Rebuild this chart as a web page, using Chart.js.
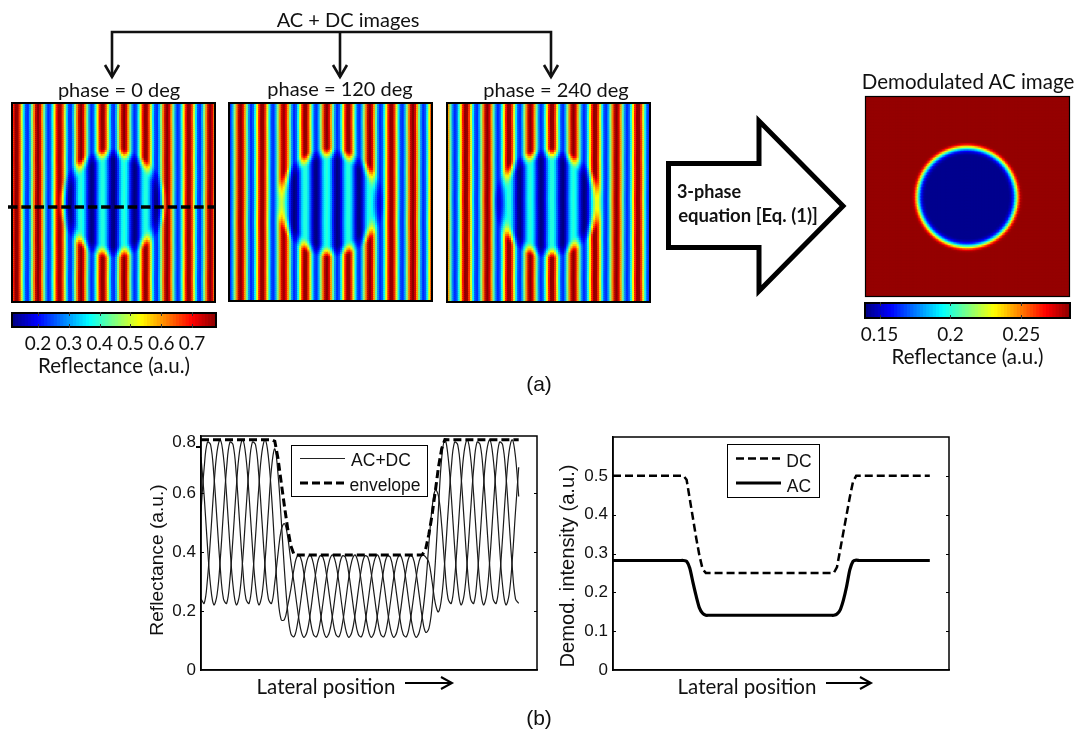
<!DOCTYPE html>
<html lang="en">
<head>
<meta charset="UTF-8">
<title>Three-phase demodulation</title>
<script src="https://cdn.jsdelivr.net/npm/chart.js"></script>
<style>
    html, body { margin: 0; padding: 0; background: #fff; }
    #page { position: relative; width: 1075px; height: 732px; overflow: hidden; }
    canvas { position: absolute; }
    canvas.image { filter: blur(0.6px); }
    svg { position: absolute; left: 0; top: 0; }
    .lbl { position: absolute; white-space: nowrap; color: #111; transform: translate(-50%, -50%); }
    .legend { position: absolute; background: #fff; border: 1.5px solid #000; box-sizing: border-box; }
</style>
</head>
<body>
<div id="page"></div>

<script>
    // line scan along the dashed row, one sample per ~2 image pixels
    const reflectancePhase0 = [
        .537,.687,.772,.763,.662,.505,.347,.241,.226,.306,.453,.617,.740,.780,.722,.588,.422,.284,.221,.255,
        .374,.537,.687,.749,.664,.510,.338,.201,.123,.113,.153,.227,.309,.370,.390,.361,.294,.211,.142,.111,
        .128,.187,.269,.344,.386,.382,.331,.253,.174,.121,.113,.153,.227,.309,.370,.390,.361,.294,.211,.142,
        .111,.128,.187,.269,.344,.386,.382,.331,.253,.174,.128,.140,.217,.362,.549,.718,.780,.722,.588,.422,
        .284,.221,.255,.374,.537,.687,.772,.763,.662,.505,.347,.241,.226,.306,.453,.617,.740,.780,.722,.588
    ];
    const reflectancePhase120 = [
        .241,.226,.306,.453,.617,.740,.780,.722,.588,.422,.284,.221,.255,.374,.537,.687,.772,.763,.662,.505,
        .347,.241,.226,.297,.394,.475,.496,.452,.368,.294,.211,.142,.111,.128,.187,.269,.344,.386,.382,.331,
        .253,.174,.121,.113,.153,.227,.309,.370,.390,.361,.294,.211,.142,.111,.128,.187,.269,.344,.386,.382,
        .331,.253,.174,.121,.113,.153,.227,.309,.370,.390,.383,.365,.300,.227,.197,.247,.374,.537,.687,.772,
        .763,.662,.505,.347,.241,.226,.306,.453,.617,.740,.780,.722,.588,.422,.284,.221,.255,.374,.537,.687
    ];
    const reflectancePhase240 = [
        .722,.588,.422,.284,.221,.255,.374,.537,.687,.772,.763,.662,.505,.347,.241,.226,.306,.453,.617,.740,
        .780,.722,.588,.409,.247,.170,.171,.217,.274,.344,.386,.382,.331,.253,.174,.121,.113,.153,.227,.309,
        .370,.390,.361,.294,.211,.142,.111,.128,.187,.269,.344,.386,.382,.331,.253,.174,.121,.113,.153,.227,
        .309,.370,.390,.361,.294,.211,.142,.111,.128,.187,.285,.426,.548,.610,.589,.490,.347,.241,.226,.306,
        .453,.617,.740,.780,.722,.588,.422,.284,.221,.255,.374,.537,.687,.772,.763,.662,.505,.347,.241,.226
    ];
    const envelope = [
        .78,.78,.78,.78,.78,.78,.78,.78,.78,.78,.78,.78,.78,.78,.78,.78,.78,.78,.78,.78,
        .78,.78,.78,.775,.717,.635,.555,.48,.421,.391,.39,.39,.39,.39,.39,.39,.39,.39,.39,.39,
        .39,.39,.39,.39,.39,.39,.39,.39,.39,.39,.39,.39,.39,.39,.39,.39,.39,.39,.39,.39,
        .39,.39,.39,.39,.39,.39,.39,.39,.39,.391,.409,.46,.525,.605,.688,.75,.781,.78,.78,.78,
        .78,.78,.78,.78,.78,.78,.78,.78,.78,.78,.78,.78,.78,.78,.78,.78,.78,.78,.78,.78
    ];
    const dcSeries = [
        .5,.5,.5,.5,.5,.5,.5,.5,.5,.5,.5,.5,.5,.5,.5,.5,.5,.5,.5,.5,
        .5,.5,.5,.49,.44,.39,.34,.295,.26,.25,.25,.25,.25,.25,.25,.25,.25,.25,.25,.25,
        .25,.25,.25,.25,.25,.25,.25,.25,.25,.25,.25,.25,.25,.25,.25,.25,.25,.25,.25,.25,
        .25,.25,.25,.25,.25,.25,.25,.25,.25,.25,.265,.31,.355,.40,.445,.485,.5,.5,.5,.5,
        .5,.5,.5,.5,.5,.5,.5,.5,.5,.5,.5,.5,.5,.5,.5,.5,.5,.5,.5,.5
    ];
    const acSeries = [
        .282,.282,.282,.282,.282,.282,.282,.282,.282,.282,.282,.282,.282,.282,.282,.282,.282,.282,.282,.282,
        .282,.282,.282,.280,.262,.225,.190,.160,.146,.141,.141,.141,.141,.141,.141,.141,.141,.141,.141,.141,
        .141,.141,.141,.141,.141,.141,.141,.141,.141,.141,.141,.141,.141,.141,.141,.141,.141,.141,.141,.141,
        .141,.141,.141,.141,.141,.141,.141,.141,.141,.141,.144,.155,.180,.215,.258,.280,.283,.282,.282,.282,
        .282,.282,.282,.282,.282,.282,.282,.282,.282,.282,.282,.282,.282,.282,.282,.282,.282,.282,.282,.282
    ];

    // the 0.8 label and its dash sit lower than a true 0.8 in the figure
    const reflectanceTicks = [0, 0.2, 0.4, 0.6, 0.77];
    const reflectanceTickLabels = ["0", "0.2", "0.4", "0.6", "0.8"];
    const demodTicks = [0, 0.1, 0.2, 0.3, 0.4, 0.5];
    const demodTickLabels = ["0", "0.1", "0.2", "0.3", "0.4", "0.5"];
    const fringeBarTicks = [0.2, 0.3, 0.4, 0.5, 0.6, 0.7];
    const fringeBarLabels = ["0.2", "0.3", "0.4", "0.5", "0.6", "0.7"];
    const demodBarTicks = [0.15, 0.2, 0.25];
    const demodBarLabels = ["0.15", "0.2", "0.25"];

    const page = document.getElementById("page");
    const sansFont = "Liberation Sans";
    const calibriLike = "Lato";

    Chart.defaults.animation = false;
    Chart.defaults.responsive = false;
    Chart.defaults.events = [];
    Chart.defaults.color = "#111";
    Chart.defaults.plugins.legend.display = false;
    Chart.defaults.plugins.tooltip.enabled = false;
    Chart.defaults.layout.autoPadding = false;

    function addCanvas(left, top, width, height) {
        const c = document.createElement("canvas");
        c.width = width;
        c.height = height;
        c.style.left = left + "px";
        c.style.top = top + "px";
        c.style.width = width + "px";
        c.style.height = height + "px";
        page.appendChild(c);
        return c;
    }

    function addText(text, cx, cy, font, rotate) {
        const d = document.createElement("div");
        d.className = "lbl";
        d.textContent = text;
        d.style.left = cx + "px";
        d.style.top = cy + "px";
        d.style.font = font;
        if (rotate) d.style.transform = "translate(-50%, -50%) rotate(" + rotate + "deg)";
        page.appendChild(d);
    }

    // jet colormap
    const jetPos = [0, 0.125, 0.375, 0.625, 0.875, 1];
    const jetRgb = [[0, 0, 128], [0, 0, 255], [0, 255, 255], [255, 255, 0], [255, 0, 0], [128, 0, 0]];
    function jet(t) {
        t = Math.max(0, Math.min(1, t));
        let k = 0;
        while (k < jetPos.length - 2 && t > jetPos[k + 1]) k++;
        const f = (t - jetPos[k]) / (jetPos[k + 1] - jetPos[k]);
        const c = jetRgb[k].map((a, n) => Math.round(a + (jetRgb[k + 1][n] - a) * f));
        return "rgb(" + c[0] + "," + c[1] + "," + c[2] + ")";
    }

    // value of a left-half scan at a distance r (in samples) from the disc centre
    function radial(series, r) {
        const idx = 49.5 - r;
        if (idx <= 0) return series[0];
        const i0 = Math.floor(idx);
        return series[i0] + (series[i0 + 1] - series[i0]) * (idx - i0);
    }

    const framePlugin = {
        id: "frame",
        afterDraw(chart) {
            const a = chart.chartArea, ctx = chart.ctx;
            ctx.save();
            ctx.strokeStyle = "#000";
            ctx.lineWidth = 2;
            ctx.strokeRect(a.left + 1, a.top + 1, a.right - a.left - 2, a.bottom - a.top - 2);
            ctx.restore();
        }
    };

    function fringeChart(left, top, width, height, cols, rows, valueAt, lo, hi, radius) {
        const pts = [], colors = [];
        for (let row = 0; row < rows; row++) {
            for (let col = 0; col < cols; col++) {
                pts.push({ x: col + 0.5, y: row + 0.5 });
                colors.push(jet((valueAt(col, row) - lo) / (hi - lo)));
            }
        }
        const canvas = addCanvas(left, top, width, height);
        canvas.className = "image";
        return new Chart(canvas, {
            type: "scatter",
            data: {
                datasets: [{
                    data: pts,
                    pointStyle: "rect",
                    pointRadius: radius,
                    pointBorderWidth: 0,
                    pointBackgroundColor: colors
                }]
            },
            options: {
                scales: {
                    x: { display: false, min: 0, max: cols },
                    y: { display: false, min: 0, max: rows }
                }
            }
        });
    }

    const fringeLo = 0.112, fringeHi = 0.781;
    const demodLo = 0.139, demodHi = 0.285;

    function fringeValue(scan) {
        return (col, row) => {
            const r = Math.hypot(col - 49.5, row - 48.5);
            return scan[col] * radial(dcSeries, r) / dcSeries[col];
        };
    }

    fringeChart(11, 102, 205, 201, 100, 98, fringeValue(reflectancePhase0), fringeLo, fringeHi, 2.3);
    fringeChart(228, 102, 205, 200, 100, 98, fringeValue(reflectancePhase120), fringeLo, fringeHi, 2.3);
    fringeChart(446, 102, 205, 201, 100, 98, fringeValue(reflectancePhase240), fringeLo, fringeHi, 2.3);
    fringeChart(865, 96, 205, 201, 137, 134, (col, row) => {
        const r = Math.hypot(col - 68, row - 66.5) * 1.5 / 2.05;
        return radial(acSeries, r);
    }, demodLo, demodHi, 1.9);

    function colorBar(left, top, width, height, pad, lo, hi, tickValues, tickLabels) {
        const bands = [];
        const n = 64;
        for (let k = 0; k < n; k++) {
            const a = lo + (hi - lo) * k / n;
            const b = lo + (hi - lo) * (k + 1.15) / n;
            bands.push({ data: [[a, Math.min(b, hi)]], backgroundColor: jet((k + 0.5) / n), borderWidth: 0, grouped: false });
        }
        return new Chart(addCanvas(left, top, width, height), {
            type: "bar",
            data: { labels: ["Reflectance"], datasets: bands },
            options: {
                indexAxis: "y",
                layout: { padding: pad },
                datasets: { bar: { barPercentage: 1, categoryPercentage: 1 } },
                scales: {
                    y: { display: false },
                    x: {
                        type: "linear",
                        min: lo,
                        max: hi,
                        grid: { display: false, drawTicks: false },
                        border: { display: false },
                        afterBuildTicks: s => { s.ticks = tickValues.map(v => ({ value: v })); },
                        afterFit: s => { s.height = 51; },
                        ticks: {
                            autoSkip: false,
                            maxRotation: 0,
                            padding: 4,
                            font: { family: calibriLike, size: 19 },
                            callback: (v, i) => tickLabels[i]
                        },
                        title: {
                            display: true,
                            text: "Reflectance (a.u.)",
                            font: { family: calibriLike, size: 20.5 },
                            padding: { top: 0, bottom: 0 }
                        }
                    }
                }
            },
            plugins: [framePlugin, {
                id: "barTicks",
                afterDraw(chart) {
                    const a = chart.chartArea, ctx = chart.ctx, x = chart.scales.x;
                    ctx.save();
                    ctx.strokeStyle = "#333";
                    tickValues.forEach(v => {
                        const p = Math.round(x.getPixelForValue(v)) + 0.5;
                        ctx.beginPath();
                        ctx.moveTo(p, a.top);
                        ctx.lineTo(p, a.top + 4);
                        ctx.moveTo(p, a.bottom);
                        ctx.lineTo(p, a.bottom - 4);
                        ctx.stroke();
                    });
                    ctx.restore();
                }
            }]
        });
    }

    colorBar(0, 305, 240, 74, { left: 11, right: 23, top: 7, bottom: 0 }, fringeLo, fringeHi, fringeBarTicks, fringeBarLabels);
    colorBar(850, 295, 225, 75, { left: 14, right: 4, top: 7, bottom: 0 }, demodLo, demodHi, demodBarTicks, demodBarLabels);

    function scanChart(left, top, width, height, pad, axisWidth, xMax, yMax, tickValues, tickLabels, innerTicks, outerTicks, datasets) {
        return new Chart(addCanvas(left, top, width, height), {
            type: "scatter",
            data: { datasets: datasets },
            options: {
                layout: { padding: pad },
                scales: {
                    x: {
                        min: 0,
                        max: xMax,
                        grid: { display: false, drawTicks: false },
                        ticks: { display: false },
                        border: { color: "#000", width: 1.5 },
                        afterFit: s => { s.height = 15; s.paddingLeft = 0; s.paddingRight = 0; }
                    },
                    y: {
                        min: 0,
                        max: yMax,
                        grid: { display: false, drawTicks: false },
                        border: { color: "#000", width: 1.5 },
                        afterBuildTicks: s => { s.ticks = tickValues.map(v => ({ value: v })); },
                        afterFit: s => { s.width = axisWidth; s.paddingTop = 0; s.paddingBottom = 0; },
                        ticks: {
                            autoSkip: false,
                            padding: 5,
                            font: { family: sansFont, size: 17 },
                            callback: (v, i) => tickLabels[i]
                        }
                    }
                }
            },
            plugins: [{
                id: "axesBox",
                afterDraw(chart) {
                    const a = chart.chartArea, ctx = chart.ctx, y = chart.scales.y;
                    ctx.save();
                    ctx.strokeStyle = "#000";
                    ctx.lineWidth = 1.5;
                    ctx.strokeRect(a.left, a.top, a.right - a.left, a.bottom - a.top);
                    ctx.lineWidth = 1;
                    innerTicks.forEach(v => {
                        const p = Math.round(y.getPixelForValue(v)) + 0.5;
                        ctx.beginPath();
                        ctx.moveTo(a.left, p);
                        ctx.lineTo(a.left + 3, p);
                        ctx.moveTo(a.right, p);
                        ctx.lineTo(a.right - 3, p);
                        ctx.stroke();
                    });
                    ctx.lineWidth = 2;
                    outerTicks.forEach(v => {
                        const p = Math.round(y.getPixelForValue(v));
                        ctx.beginPath();
                        ctx.moveTo(a.left - 5, p);
                        ctx.lineTo(a.left, p);
                        ctx.stroke();
                    });
                    ctx.restore();
                }
            }]
        });
    }

    function points(series) {
        return series.map((v, i) => ({ x: i, y: v }));
    }

    const thinLine = { showLine: true, borderColor: "#1a1a1a", borderWidth: 1.2, pointRadius: 0, tension: 0.4 };

    scanChart(140, 425, 410, 260, { left: 0, right: 13, top: 11, bottom: 0 }, 61, 104.7, 0.793,
        reflectanceTicks, reflectanceTickLabels, [0.2, 0.4, 0.6], [0.755], [
            { label: "envelope", data: points(envelope), showLine: true, borderColor: "#000", borderWidth: 3, borderDash: [8, 4], pointRadius: 0, tension: 0 },
            Object.assign({ label: "AC+DC", data: points(reflectancePhase0) }, thinLine),
            Object.assign({ label: "AC+DC 120", data: points(reflectancePhase120) }, thinLine),
            Object.assign({ label: "AC+DC 240", data: points(reflectancePhase240) }, thinLine)
        ]);

    scanChart(550, 425, 410, 260, { left: 0, right: 11, top: 12, bottom: 0 }, 63, 105, 0.6,
        demodTicks, demodTickLabels, [0.1, 0.2, 0.3, 0.4, 0.5], [], [
            { label: "DC", data: points(dcSeries), showLine: true, borderColor: "#000", borderWidth: 2.5, borderDash: [8, 4], pointRadius: 0, tension: 0 },
            { label: "AC", data: points(acSeries), showLine: true, borderColor: "#000", borderWidth: 3.2, pointRadius: 0, tension: 0.2 }
        ]);

    // free text
    const calibriText = "20px " + calibriLike;
    addText("AC + DC images", 348, 19, calibriText);
    addText("phase = 0 deg", 119, 89, calibriText);
    addText("phase = 120 deg", 340, 88, calibriText);
    addText("phase = 240 deg", 556, 89, calibriText);
    addText("Demodulated AC image", 968, 81, "20.5px " + calibriLike);
    addText("3-phase", 709, 191, "bold 18px " + calibriLike);
    addText("equation [Eq. (1)]", 748, 215, "bold 18.5px " + calibriLike);
    addText("(a)", 539, 384, "21px " + sansFont);
    addText("(b)", 539, 718, "21px " + sansFont);
    addText("Reflectance (a.u.)", 157, 560, "19.2px " + sansFont, -90);
    addText("Demod. intensity (a.u.)", 567, 566, "20.2px " + sansFont, -90);
    addText("Lateral position", 326, 686, "20.5px " + calibriLike);
    addText("Lateral position", 747, 686, "20.5px " + calibriLike);

    // legends
    function addLegend(left, top, width, height, rows) {
        const box = document.createElement("div");
        box.className = "legend";
        box.style.left = left + "px";
        box.style.top = top + "px";
        box.style.width = width + "px";
        box.style.height = height + "px";
        page.appendChild(box);
        rows.forEach(r => addText(r.text, r.x, r.y, "17.5px " + sansFont));
    }
    addLegend(291, 445, 137, 52, [{ text: "AC+DC", x: 381, y: 460 }, { text: "envelope", x: 385, y: 485 }]);
    addLegend(727, 444, 93, 54, [{ text: "DC", x: 799, y: 461 }, { text: "AC", x: 799, y: 486 }]);

    // arrows, image frames and the dashed scan line
    const svgNS = "http://www.w3.org/2000/svg";
    const svg = document.createElementNS(svgNS, "svg");
    svg.setAttribute("width", 1075);
    svg.setAttribute("height", 732);
    svg.innerHTML = `
        <g fill="none" stroke="#000" stroke-width="2">
            <rect x="12" y="103" width="203" height="199"/>
            <rect x="229" y="103" width="203" height="198"/>
            <rect x="447" y="103" width="203" height="199"/>
            <rect x="865.5" y="96.5" width="204" height="200" stroke-width="1.2"/>
        </g>
        <g fill="none" stroke="#111" stroke-width="2.6">
            <path d="M112 77V32H551V77"/>
            <path d="M340 32V77"/>
            <path d="M105 65L112 77L119 65"/>
            <path d="M333 65L340 77L347 65"/>
            <path d="M544 65L551 77L558 65"/>
        </g>
        <polygon points="668.5,163.5 759,163.5 759,121 843,206 759,291 759,247.5 668.5,247.5" fill="#fff" stroke="#000" stroke-width="5"/>
        <line x1="8" y1="207" x2="216" y2="207" stroke="#000" stroke-width="3.5" stroke-dasharray="9.5 3.8"/>
        <line x1="300" y1="458.5" x2="345" y2="458.5" stroke="#222" stroke-width="1"/>
        <line x1="300" y1="483" x2="345" y2="483" stroke="#000" stroke-width="3" stroke-dasharray="8 4"/>
        <line x1="736" y1="458.5" x2="781" y2="458.5" stroke="#000" stroke-width="2.5" stroke-dasharray="8 4"/>
        <line x1="736" y1="483" x2="781" y2="483" stroke="#000" stroke-width="3.2"/>
        <g fill="none" stroke="#000" stroke-width="2">
            <path d="M405 683H452M441 677L452 683L441 689"/>
            <path d="M826 683H871M860 677L871 683L860 689"/>
        </g>`;
    page.appendChild(svg);
    // legends and text have to stay above the svg drawn last
    Array.from(page.querySelectorAll(".lbl")).forEach(el => page.appendChild(el));
</script>
</body>
</html>
